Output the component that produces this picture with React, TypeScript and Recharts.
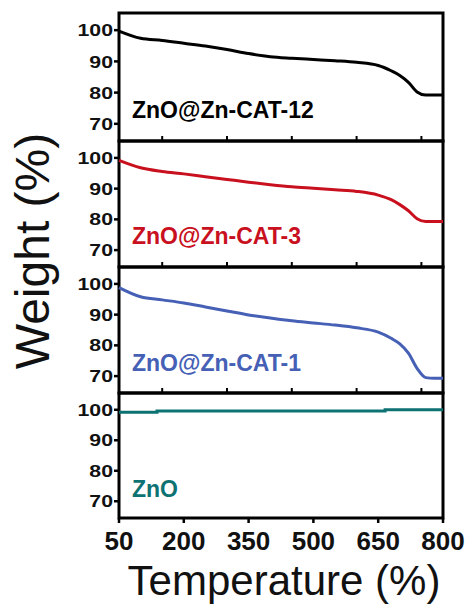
import React from 'react'
import { LineChart, Line, XAxis, YAxis, ReferenceArea, ReferenceLine } from 'recharts'

// TGA curves
const temps = [50, 100, 150, 200, 250, 300, 350, 400, 450, 500, 550, 600, 650, 680, 700, 720, 740, 760, 780, 800]
const weightCat12 = [99.7, 97.4, 96.7, 95.8, 94.9, 93.8, 92.5, 91.5, 91.0, 90.6, 90.2, 89.7, 88.7, 87.0, 85.5, 83.3, 80.2, 79.2, 79.2, 79.2]
const weightCat3 = [99.2, 96.8, 95.6, 94.8, 93.9, 93.0, 92.1, 91.3, 90.6, 90.1, 89.6, 89.1, 87.9, 86.4, 84.8, 82.8, 80.2, 79.3, 79.3, 79.3]
const weightCat1 = [98.8, 95.8, 94.8, 93.8, 92.5, 91.2, 89.9, 88.9, 88.0, 87.3, 86.6, 85.7, 84.3, 82.3, 80.5, 77.5, 72.5, 69.5, 69.3, 69.3]
const znoTemps = [50, 138, 666, 800]
const znoWeight = [99.2, 99.6, 100, 100]

const yTicks = [70, 80, 90, 100]
const innerTicks = [150, 300, 450, 600, 750]
const bottomTicks = [50, 200, 350, 500, 650, 800]

const FONT = '"Liberation Sans", Arial, Helvetica, sans-serif'
const PAD = 4
const TICK = 5
const X_DOMAIN = [50, 800]
const Y_DOMAIN = [64.5, 105.5]

const toRows = (xs: number[], ys: number[]) => xs.map((t, i) => ({ t, w: ys[i] }))

// y tick labels look horizontally stretched in the original
const renderYTick = (props: any) => {
  const { x, y, payload } = props
  return (
    <g transform={`translate(${x},${y})`}>
      <text transform="scale(1.25,1)" textAnchor="end" dy="0.36em" fontFamily={FONT} fontWeight="bold" fontSize={17} fill="#111">
        {payload.value}
      </text>
    </g>
  )
}

// tick marks drawn as short reference-line stubs (positions come from the chart scales)
const yTickMark = (p: any) => {
  const left = Math.min(p.x1, p.x2)
  return <line x1={left - TICK} x2={left} y1={p.y1} y2={p.y1} stroke="#000" strokeWidth={2.5} />
}
const xTickOut = (p: any) => {
  const bottom = Math.max(p.y1, p.y2)
  return <line x1={p.x1} x2={p.x1} y1={bottom} y2={bottom + TICK} stroke="#000" strokeWidth={2.5} />
}
const xTickIn = (p: any) => {
  const bottom = Math.max(p.y1, p.y2)
  return <line x1={p.x1} x2={p.x1} y1={bottom} y2={bottom - TICK} stroke="#000" strokeWidth={2} />
}

interface PanelProps {
  data: { t: number; w: number }[]
  color: string
  top: number
  plotHeight: number
  last?: boolean
  step?: boolean
}

const Panel: React.FC<PanelProps> = ({ data, color, top, plotHeight, last, step }) => {
  const axisH = last ? 44 : 0
  return (
    <div style={{ position: 'absolute', left: 0, top: top - PAD }}>
      <LineChart width={474} height={plotHeight + 2 * PAD + axisH} data={data} margin={{ top: PAD, right: 31, bottom: PAD, left: 0 }}>
        {last ? (
          <XAxis
            dataKey="t"
            type="number"
            domain={X_DOMAIN}
            ticks={bottomTicks}
            interval={0}
            height={axisH}
            tick={{ fontFamily: FONT, fontWeight: 'bold', fontSize: 26, fill: '#111' }}
            tickSize={TICK}
            tickMargin={9}
            tickLine={false}
            axisLine={false}
          />
        ) : (
          <XAxis dataKey="t" type="number" domain={X_DOMAIN} height={10} mirror tick={false} tickLine={false} axisLine={false} />
        )}
        <YAxis
          type="number"
          domain={Y_DOMAIN}
          ticks={yTicks}
          interval={0}
          width={119}
          tick={renderYTick}
          tickSize={TICK}
          tickMargin={1}
          tickLine={false}
          axisLine={false}
          allowDataOverflow
        />
        {yTicks.map((v) => (
          <ReferenceLine key={`y${v}`} y={v} shape={yTickMark} />
        ))}
        {(last ? bottomTicks : innerTicks).map((t) => (
          <ReferenceLine key={`x${t}`} x={t} shape={last ? xTickOut : xTickIn} />
        ))}
        {/* panel frame */}
        <ReferenceArea x1={X_DOMAIN[0]} x2={X_DOMAIN[1]} y1={Y_DOMAIN[0]} y2={Y_DOMAIN[1]}
          fill="none" fillOpacity={0} stroke="#000" strokeWidth={3} strokeOpacity={1} ifOverflow="visible" />
        <Line dataKey="w" type={step ? 'stepAfter' : 'monotone'} stroke={color} strokeWidth={3} dot={false} isAnimationActive={false} />
      </LineChart>
    </div>
  )
}

const labelStyle = (top: number, color: string): React.CSSProperties => ({
  position: 'absolute',
  left: 132,
  top,
  fontFamily: FONT,
  fontWeight: 'bold',
  fontSize: 23,
  lineHeight: 1,
  whiteSpace: 'nowrap',
  color,
})

export default function App() {
  return (
    <div style={{ position: 'absolute', left: 0, top: 0, width: 474, height: 610 }}>
      <Panel data={toRows(temps, weightCat12)} color="#000000" top={13} plotHeight={128} />
      <Panel data={toRows(temps, weightCat3)} color="#c9101e" top={141} plotHeight={126} />
      <Panel data={toRows(temps, weightCat1)} color="#4560b5" top={267} plotHeight={126} />
      <Panel data={toRows(znoTemps, znoWeight)} color="#0d7272" top={393} plotHeight={125} last step />

      {/* panel labels and axis titles */}
      <div style={labelStyle(98.5, '#000000')}>ZnO@Zn-CAT-12</div>
      <div style={labelStyle(224.5, '#c9101e')}>ZnO@Zn-CAT-3</div>
      <div style={labelStyle(351.5, '#4560b5')}>ZnO@Zn-CAT-1</div>
      <div style={labelStyle(477.5, '#0d7272')}>ZnO</div>
      <div
        style={{
          position: 'absolute', left: 33.4, top: 251, transform: 'translate(-50%, -50%) rotate(-90deg)',
          fontFamily: FONT, fontSize: 48, lineHeight: 1, whiteSpace: 'nowrap', color: '#111',
        }}
      >
        Weight (%)
      </div>
      <div
        style={{
          position: 'absolute', left: 284, top: 560.4, transform: 'translateX(-50%)',
          fontFamily: FONT, fontSize: 42, lineHeight: 1, whiteSpace: 'nowrap', color: '#111',
        }}
      >
        Temperature (%)
      </div>
    </div>
  )
}
